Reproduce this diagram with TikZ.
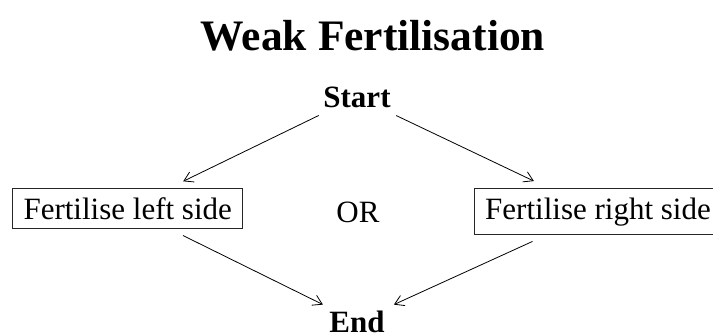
\documentclass[tikz,border=0pt]{standalone}
\usepackage{fontspec}
\setmainfont{Liberation Serif}
\usetikzlibrary{arrows.meta}
\begin{document}
\begin{tikzpicture}[x=1pt,y=-1pt,
  txt/.style={font=\fontsize{31}{37}\selectfont, inner sep=0pt, anchor=base},
  bigtxt/.style={font=\fontsize{43.5}{52}\selectfont\bfseries, inner sep=0pt, anchor=base},
  boxed/.style={draw=black!85, line width=0.8pt, font=\fontsize{31}{37}\selectfont, inner xsep=11pt, inner ysep=9pt, anchor=base},
  conn/.style={line width=0.8pt, -{Straight Barb[length=9pt,width=11pt]}}]
\useasboundingbox (0,0) rectangle (713,335);
\node[bigtxt] (title) at (373,50) {Weak Fertilisation};
\node[txt, font=\fontsize{31}{37}\selectfont\bfseries] (start) at (357,107) {Start};
\node[boxed] (left) at (127.7,219) {Fertilise left side};
\node[txt] (or) at (358,222) {OR};
\node[boxed] (right) at (598,219) {Fertilise right side};
\node[txt, font=\fontsize{31}{37}\selectfont\bfseries] (end) at (357,332) {End};
\draw[conn, shorten <=42.5pt, shorten >=61.7pt] (start.center) -- (left.center);
\draw[conn, shorten <=43.5pt, shorten >=71pt] (start.center) -- (right.center);
\draw[conn, shorten <=61.7pt, shorten >=38pt] (left.center) -- (end.center);
\draw[conn, shorten <=72pt, shorten >=40.5pt] (right.center) -- (end.center);
\end{tikzpicture}
\end{document}
